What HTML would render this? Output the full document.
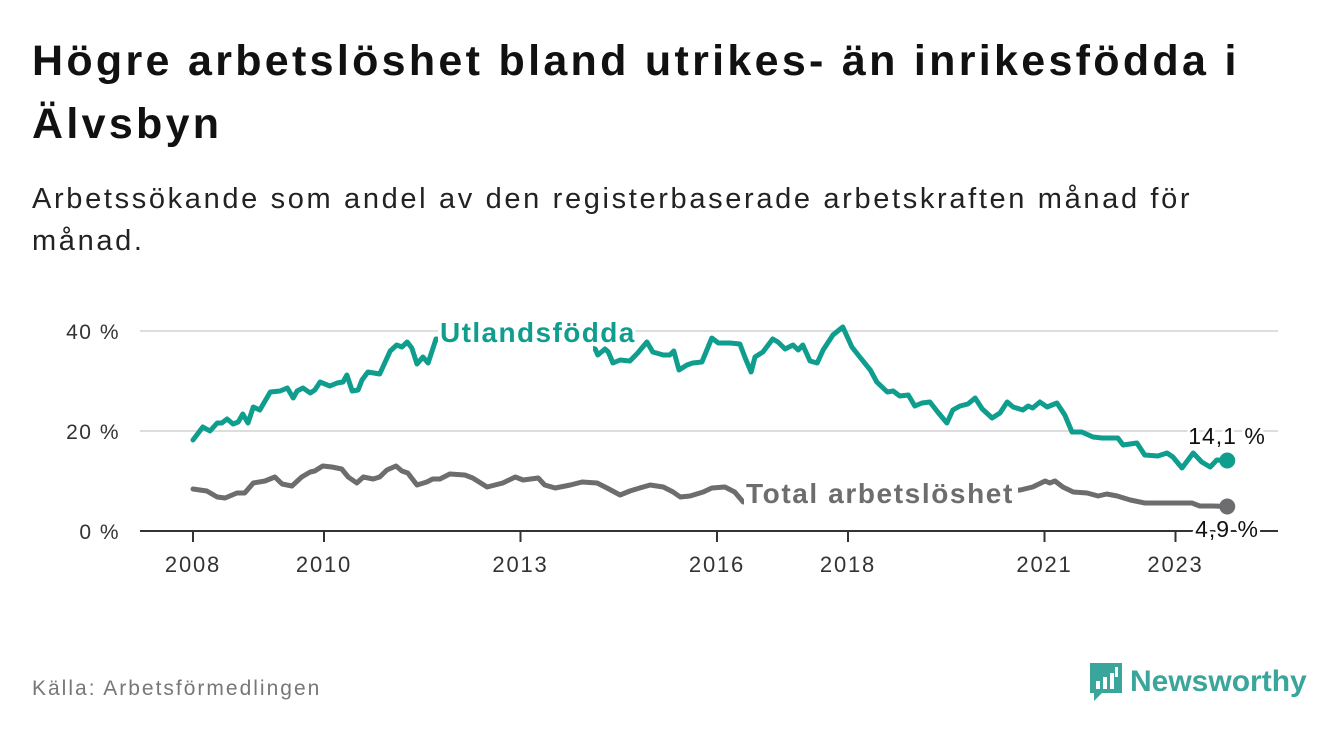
<!DOCTYPE html>
<html><head><meta charset="utf-8">
<style>
body{margin:0;background:#fff;width:1340px;height:734px;overflow:hidden;font-family:"Liberation Sans",sans-serif;}
#title{position:absolute;left:32px;top:30px;width:1300px;font-size:43px;letter-spacing:3.3px;font-weight:bold;line-height:63px;color:#111;margin:0;white-space:nowrap}
#sub{position:absolute;left:32px;top:178px;width:1300px;font-size:29px;letter-spacing:2.65px;line-height:42px;color:#222;margin:0;white-space:nowrap}
#src{position:absolute;left:32px;top:677px;font-size:21px;letter-spacing:2px;color:#777}
#logo{position:absolute;left:1088px;top:660px;height:44px;display:flex;align-items:center}
</style></head><body>
<h1 id="title">Högre arbetslöshet bland utrikes- än inrikesfödda i<br>Älvsbyn</h1>
<p id="sub">Arbetssökande som andel av den registerbaserade arbetskraften månad för<br>månad.</p>
<svg id="chart" width="1340" height="734" style="position:absolute;left:0;top:0" font-family="Liberation Sans, sans-serif"></svg>
<div id="src">Källa: Arbetsförmedlingen</div>
<div id="logo">
<svg width="36" height="42" viewBox="0 0 36 42"><path d="M2 2h32v30H14l-8 8v-8H2z" fill="#3aa59a"/><rect x="8" y="20" width="4" height="8" fill="#fff"/><rect x="15" y="16" width="4" height="12" fill="#fff"/><rect x="22" y="12" width="4" height="16" fill="#fff"/><rect x="27" y="6" width="3" height="10" fill="#fff"/></svg>
<span style="font-size:30px;font-weight:bold;color:#3aa59a;margin-left:6px">Newsworthy</span></div>
<script>
const utlDates=[2008.0,2008.15,2008.26,2008.37,2008.44,2008.52,2008.61,2008.69,2008.76,2008.84,2008.92,2009.02,2009.18,2009.33,2009.44,2009.53,2009.59,2009.68,2009.79,2009.86,2009.94,2010.09,2010.2,2010.29,2010.35,2010.43,2010.52,2010.58,2010.67,2010.85,2011.01,2011.11,2011.19,2011.27,2011.34,2011.42,2011.51,2011.59,2011.71,2012.08,2012.69,2013.3,2013.76,2014.14,2014.18,2014.29,2014.34,2014.41,2014.52,2014.67,2014.79,2014.93,2015.02,2015.18,2015.28,2015.34,2015.42,2015.54,2015.63,2015.77,2015.92,2016.02,2016.2,2016.35,2016.43,2016.52,2016.58,2016.7,2016.85,2016.93,2017.04,2017.16,2017.24,2017.31,2017.42,2017.53,2017.62,2017.77,2017.92,2018.06,2018.18,2018.34,2018.44,2018.6,2018.69,2018.79,2018.92,2019.02,2019.13,2019.25,2019.37,2019.51,2019.6,2019.71,2019.83,2019.94,2020.05,2020.2,2020.32,2020.43,2020.52,2020.67,2020.75,2020.82,2020.93,2021.04,2021.19,2021.31,2021.42,2021.57,2021.74,2021.88,2022.12,2022.2,2022.41,2022.53,2022.73,2022.87,2022.96,2023.1,2023.27,2023.4,2023.53,2023.63,2023.79];
const utlValues=[18.2,20.8,20,21.6,21.6,22.4,21.4,21.8,23.4,21.6,24.8,24.2,27.8,28,28.6,26.6,28,28.6,27.6,28.2,29.8,29,29.6,29.8,31.2,28,28.2,30.2,31.8,31.4,36,37.2,36.8,37.8,36.6,33.4,34.8,33.6,38.4,37.5,38,37,37.5,36.4,35.2,36.4,35.8,33.6,34.2,34,35.6,37.8,35.8,35.2,35.2,36,32.2,33.2,33.6,33.8,38.6,37.6,37.6,37.4,34.6,31.8,34.8,35.8,38.4,37.8,36.4,37.2,36.2,37.2,34,33.6,36.2,39.2,40.8,36.8,34.8,32.2,29.8,27.8,28,27,27.2,25,25.6,25.8,23.8,21.6,24.2,25,25.4,26.6,24.4,22.6,23.6,25.8,24.8,24.2,25,24.6,25.8,24.8,25.6,23.2,19.8,19.8,18.8,18.6,18.6,17.2,17.6,15.2,15,15.6,14.8,12.6,15.6,13.8,12.8,14.2,14.1];
const totDates=[2008.0,2008.21,2008.37,2008.49,2008.67,2008.79,2008.92,2009.1,2009.25,2009.36,2009.51,2009.66,2009.79,2009.86,2009.98,2010.12,2010.27,2010.37,2010.5,2010.6,2010.75,2010.85,2010.96,2011.1,2011.19,2011.28,2011.42,2011.57,2011.66,2011.77,2011.92,2012.15,2012.27,2012.49,2012.73,2012.92,2013.04,2013.27,2013.37,2013.53,2013.76,2013.94,2014.17,2014.32,2014.52,2014.67,2014.82,2014.98,2015.18,2015.33,2015.44,2015.59,2015.79,2015.92,2016.12,2016.27,2016.4,2016.8,2017.5,2018.2,2019.0,2019.8,2020.4,2020.63,2020.82,2021.01,2021.08,2021.16,2021.28,2021.44,2021.65,2021.82,2021.95,2022.11,2022.31,2022.53,2022.72,2022.92,2023.07,2023.25,2023.37,2023.57,2023.79];
const totValues=[8.4,8,6.8,6.6,7.6,7.6,9.6,10,10.8,9.4,9,10.8,11.8,12,13,12.8,12.4,10.8,9.6,10.8,10.4,10.8,12.2,13,12,11.6,9.2,9.8,10.4,10.4,11.4,11.2,10.6,8.8,9.6,10.8,10.2,10.6,9.2,8.6,9.2,9.8,9.6,8.6,7.2,8,8.6,9.2,8.8,7.8,6.8,7,7.8,8.6,8.8,7.8,5.8,6.5,7,7.5,7.2,7.4,8,8.2,8.8,10,9.6,10,8.8,7.8,7.6,7,7.4,7,6.2,5.6,5.6,5.6,5.6,5.6,5,5,4.9];
const xTicks=[2008,2010,2013,2016,2018,2021,2023];
const yTicks=[0,20,40];
const yTickLabels=["0 %","20 %","40 %"];
const endLabels=["14,1 %","4,9 %"];
const NS="http://www.w3.org/2000/svg";
const svg=document.getElementById('chart');
const x=v=>193+(v-2008)*65.5;
const y=v=>531-v*5;
function mk(t,a,txt){const e=document.createElementNS(NS,t);for(const k in a)e.setAttribute(k,a[k]);if(txt!=null)e.textContent=txt;svg.appendChild(e);return e;}
yTicks.forEach((t,i)=>{
 if(t>0){const g=mk('line',{x1:140,x2:1278,y1:y(t),y2:y(t),stroke:'#ddd','stroke-width':2});
 
 }
 const l=mk('text',{x:120,y:y(t)+8,'text-anchor':'end','font-size':21,'letter-spacing':1.5,fill:'#333'},yTickLabels[i]);
 
 
});
const ax=mk('line',{x1:140,x2:1278,y1:531,y2:531,stroke:'#333','stroke-width':2});


xTicks.forEach(t=>{
 const tk=mk('line',{x1:x(t),x2:x(t),y1:531,y2:542,stroke:'#333','stroke-width':2});
 
 
 const l=mk('text',{x:x(t),y:572,'text-anchor':'middle','font-size':22,'letter-spacing':1.8,fill:'#333'},String(t));
 
 
});
function line(d,v,c,name){
 const p=mk('path',{d:d.map((a,i)=>(i?'L':'M')+x(a).toFixed(1)+','+y(v[i]).toFixed(1)).join(''),fill:'none',stroke:c,'stroke-width':5,'stroke-linejoin':'round','stroke-linecap':'round'});
 
 
 const n=d.length-1;
 const dot=mk('circle',{cx:x(d[n]),cy:y(v[n]),r:8,fill:c});
 
 
}
line(totDates,totValues,'#6d6d70','total-line');
line(utlDates,utlValues,'#0f9e8e','utlandsfodda-line');
const r1=mk('rect',{x:438,y:316,width:155,height:44,fill:'#fff'});


const r2=mk('rect',{x:744,y:474,width:274,height:40,fill:'#fff'});


const halo={stroke:'#fff','stroke-width':6,'paint-order':'stroke','stroke-linejoin':'round'};
const l1=mk('text',Object.assign({x:440,y:342,'font-size':28,'letter-spacing':1.4,'font-weight':'bold',fill:'#0f9e8e'},halo),'Utlandsfödda');


const l2=mk('text',Object.assign({x:746,y:503,'font-size':28,'letter-spacing':1.6,'font-weight':'bold',fill:'#6d6d70'},halo),'Total arbetslöshet');


const e1=mk('text',Object.assign({x:1227,y:444,'text-anchor':'middle','font-size':23,'letter-spacing':1,fill:'#111'},halo),endLabels[0]);


const e2=mk('text',Object.assign({x:1227,y:537,'text-anchor':'middle','font-size':23,'letter-spacing':1,fill:'#111'},halo),endLabels[1]);


</script>
</body></html>
